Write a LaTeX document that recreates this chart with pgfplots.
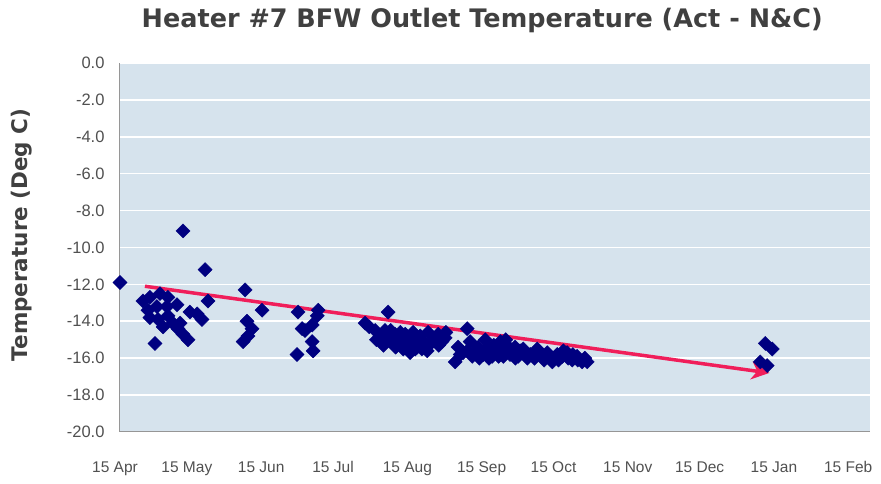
\documentclass[border=0pt]{standalone}
\usepackage{pgfplots}
\pgfplotsset{compat=1.18}
\usepackage{fontspec}
\setmainfont{Liberation Sans}
\newfontfamily\headfont{DejaVu Sans}
\usetikzlibrary{arrows.meta}
\definecolor{plotbg}{RGB}{214,227,237}
\definecolor{navy}{RGB}{0,0,128}
\definecolor{trend}{RGB}{240,30,90}
\definecolor{titlegray}{RGB}{64,64,64}
\definecolor{tickgray}{RGB}{80,80,80}
\definecolor{axgray}{RGB}{150,150,150}
\begin{document}
\begin{tikzpicture}
\begin{axis}[
  scale only axis,
  width=750pt, height=369pt,
  xmin=0, xmax=313,
  ymin=-20, ymax=0,
  axis background/.style={fill=plotbg},
  axis x line*=bottom, axis y line*=left,
  axis line style={draw=axgray, line width=1pt},
  ytick={0,-2,...,-20},
  ymajorgrids, grid style={draw=white, line width=1.6pt},
  major tick length=0pt,
  xtick={0,30,61,91,122,153,183,214,244,275,306},
  xticklabels={15 Apr,15 May,15 Jun,15 Jul,15 Aug,15 Sep,15 Oct,15 Nov,15 Dec,15 Jan,15 Feb},
  xticklabel style={font=\fontsize{15.5}{18}\selectfont, text=tickgray, anchor=north, yshift=-26pt, xshift=-5pt},
  yticklabel style={font=\fontsize{16.5}{18}\selectfont, text=tickgray, anchor=east, xshift=-12pt},
  /pgf/number format/assume math mode=true,
  yticklabel={\pgfmathprintnumber[fixed,fixed zerofill,precision=1]{\tick}},
  ylabel={Temperature (Deg C)},
  every axis y label/.style={at={(rel axis cs:0,0.534)}, xshift=-98pt, rotate=90, anchor=center, font=\headfont\bfseries\fontsize{21.5}{24}\selectfont, text=titlegray},
  clip=false,
]
\addplot[only marks, mark=square*, mark size=5pt, mark options={rotate=45, fill=navy, draw=navy}] table {
x y
0 -11.9
26.3 -9.1
35.5 -11.2
9.6 -12.9
12.5 -12.7
16.7 -12.5
20.0 -12.7
23.8 -13.1
11.7 -13.4
15.4 -13.2
19.6 -13.2
12.5 -13.8
15.9 -13.9
20.0 -13.7
22.1 -14.1
18.0 -14.3
25.1 -14.1
29.2 -13.5
32.2 -13.6
34.2 -13.9
36.7 -12.9
24.2 -14.4
26.3 -14.7
28.4 -15.0
14.6 -15.2
52.2 -12.3
59.3 -13.4
53.0 -14.0
55.1 -14.4
51.4 -15.1
53.4 -14.8
74.3 -13.5
82.7 -13.4
82.3 -13.7
80.2 -14.2
77.2 -14.5
76.0 -14.4
80.2 -15.1
73.9 -15.8
80.6 -15.6
102.3 -14.1
111.9 -13.5
106.5 -14.5
108.6 -14.8
110.6 -14.5
112.7 -15.0
114.8 -14.7
116.9 -15.1
118.2 -15.5
119.0 -14.7
121.1 -15.0
122.3 -14.6
124.0 -15.4
125.3 -14.8
126.5 -15.1
128.2 -15.6
128.6 -14.6
130.3 -15.1
131.5 -14.9
132.8 -14.7
134.4 -15.1
135.7 -14.9
121.1 -15.7
123.2 -15.5
104.0 -14.3
107.0 -15.0
110.0 -15.3
113.0 -14.5
115.0 -15.4
117.0 -14.6
120.0 -15.3
126.0 -15.5
129.0 -15.3
133.0 -15.3
136.0 -14.6
144.9 -14.4
141.1 -15.4
139.9 -16.2
143.2 -15.7
146.1 -15.1
148.2 -15.7
149.5 -15.4
151.6 -15.8
153.7 -15.4
155.3 -15.9
157.4 -15.6
158.7 -15.1
159.9 -15.7
161.6 -15.4
162.8 -15.8
164.9 -15.4
166.2 -15.9
161.0 -15.0
152.4 -15.0
142.0 -15.8
145.0 -15.6
147.0 -15.9
150.0 -16.0
152.0 -15.6
154.0 -16.0
156.0 -15.3
158.0 -15.9
160.0 -15.9
163.0 -15.5
165.0 -16.0
167.0 -15.6
168.3 -15.5
171.2 -15.8
174.1 -15.5
176.2 -15.9
178.3 -15.7
180.4 -16.2
182.5 -15.8
184.6 -15.9
186.6 -15.7
188.7 -16.1
190.8 -15.9
192.9 -16.2
195.0 -16.2
170.0 -16.0
173.0 -16.0
175.0 -15.7
177.0 -16.1
179.0 -15.9
181.0 -16.0
183.0 -16.1
185.0 -15.6
187.0 -16.0
189.0 -15.8
191.0 -16.1
194.0 -16.0
269.3 -15.2
272.2 -15.5
267.2 -16.2
270.1 -16.4
};
\addplot[trend, line width=3.5pt, -{Stealth[length=18pt,width=18pt]}] coordinates {(10.4,-12.1) (271,-16.8)};
\node[font=\headfont\bfseries\fontsize{25.5}{30}\selectfont, text=titlegray] at ([yshift=43pt]rel axis cs:0.483,1) {Heater \#7 BFW Outlet Temperature (Act - N\&C)};
\path ([xshift=-120pt,yshift=-52pt]rel axis cs:0,0) rectangle ([xshift=11pt,yshift=63pt]rel axis cs:1,1);
\end{axis}
\end{tikzpicture}
\end{document}
